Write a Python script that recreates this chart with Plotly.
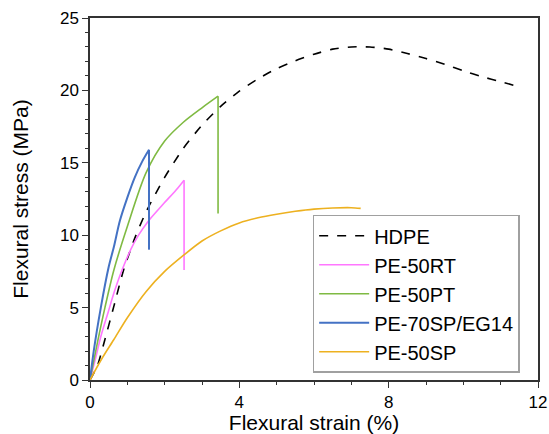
import plotly.graph_objects as go

# HDPE (dashed black)
hdpe_x = [0, 0.2, 0.4, 0.64, 0.9, 1.2, 1.5, 2.0, 2.5, 3.0, 3.5, 4.0, 4.5, 5.0, 5.5,
          6.0, 6.5, 7.0, 7.5, 8.0, 8.5, 9.0, 9.5, 10.0, 10.5, 11.0, 11.5]
hdpe_y = [0, 1.0, 2.8, 5.1, 7.6, 9.8, 11.6, 14.0, 16.0, 17.6, 18.9, 19.95, 20.8, 21.5, 22.05,
          22.5, 22.85, 23.0, 23.0, 22.85, 22.55, 22.2, 21.8, 21.35, 20.95, 20.6, 20.25]

# PE-50RT (pink), then sudden drop at break
rt_x = [0, 0.15, 0.29, 0.5, 0.64, 0.8, 1.09, 1.3, 1.54, 1.98, 2.3, 2.52]
rt_y = [0, 1.5, 3.0, 4.8, 6.0, 7.2, 9.0, 10.0, 10.9, 12.2, 13.1, 13.8]
rt_drop = 7.6

# PE-50PT (green)
pt_x = [0, 0.1, 0.2, 0.4, 0.64, 1.0, 1.5, 2.0, 2.5, 3.0, 3.43]
pt_y = [0, 1.3, 2.6, 5.0, 7.6, 10.6, 14.3, 16.5, 17.8, 18.8, 19.6]
pt_drop = 11.5

# PE-70SP/EG14 (blue)
sp70_x = [0, 0.1, 0.29, 0.5, 0.64, 0.8, 1.0, 1.2, 1.4, 1.58]
sp70_y = [0, 2.0, 5.0, 7.8, 9.2, 11.0, 12.6, 14.0, 15.1, 15.9]
sp70_drop = 9.0

# PE-50SP (orange)
sp50_x = [0, 0.3, 0.64, 1.0, 1.5, 2.0, 2.5, 3.0, 3.5, 4.0, 4.5, 5.0, 5.5, 6.0, 6.5, 7.0, 7.25]
sp50_y = [0, 1.4, 2.8, 4.3, 6.1, 7.5, 8.6, 9.6, 10.3, 10.85, 11.2, 11.45, 11.65, 11.8, 11.88, 11.9, 11.85]

fig = go.Figure()
fig.add_trace(go.Scatter(x=hdpe_x, y=hdpe_y, mode='lines', name='HDPE',
                         line=dict(color='black', width=1.6, dash='dash', shape='spline', smoothing=0.6)))

series = [
    ('PE-50RT', rt_x, rt_y, rt_drop, '#FF77FF', 1.6),
    ('PE-50PT', pt_x, pt_y, pt_drop, '#7FBA42', 1.6),
    ('PE-70SP/EG14', sp70_x, sp70_y, sp70_drop, '#4472C4', 2),
    ('PE-50SP', sp50_x, sp50_y, None, '#EDB120', 1.6),
]
for name, xs, ys, drop, color, w in series:
    fig.add_trace(go.Scatter(x=xs, y=ys, mode='lines', name=name,
                             line=dict(color=color, width=w, shape='spline', smoothing=0.8)))
    if drop is not None:
        # vertical break drop
        fig.add_trace(go.Scatter(x=[xs[-1], xs[-1]], y=[ys[-1], drop], mode='lines',
                                 showlegend=False, hoverinfo='skip',
                                 line=dict(color=color, width=w)))

axis_common = dict(
    showgrid=False, zeroline=False, showline=True, linecolor='#333333', linewidth=1.5,
    mirror=True, ticks='outside', ticklen=6, tickwidth=1.2, tickcolor='#333333',
    tickfont=dict(size=17, color='black'), automargin=False,
)

fig.update_xaxes(range=[0, 12], tick0=0, dtick=4,
                 minor=dict(dtick=1, ticks='outside', ticklen=3, tickcolor='#333333'),
                 title=dict(text='Flexural strain (%)', font=dict(size=21), standoff=2),
                 **axis_common)
fig.update_yaxes(range=[0, 25], tick0=0, dtick=5,
                 minor=dict(dtick=1, ticks='outside', ticklen=3, tickcolor='#333333'),
                 title=dict(text='Flexural stress (MPa)', font=dict(size=21), standoff=26),
                 **axis_common)

fig.update_layout(
    width=549, height=434,
    plot_bgcolor='white', paper_bgcolor='white',
    font=dict(family='Liberation Sans, Arial', size=17, color='black'),
    margin=dict(l=90, r=11, t=18, b=54),
    legend=dict(x=0.497, y=0.02, xanchor='left', yanchor='bottom',
                bgcolor='white', bordercolor='#A0A0A0', borderwidth=1.5,
                font=dict(size=20), itemwidth=50, tracegroupgap=0),
)

# remove default page margin so the figure sits at the window's corner
fig.write_html("out.html", config={'displayModeBar': False},
               post_script="document.body.style.margin='0';")
